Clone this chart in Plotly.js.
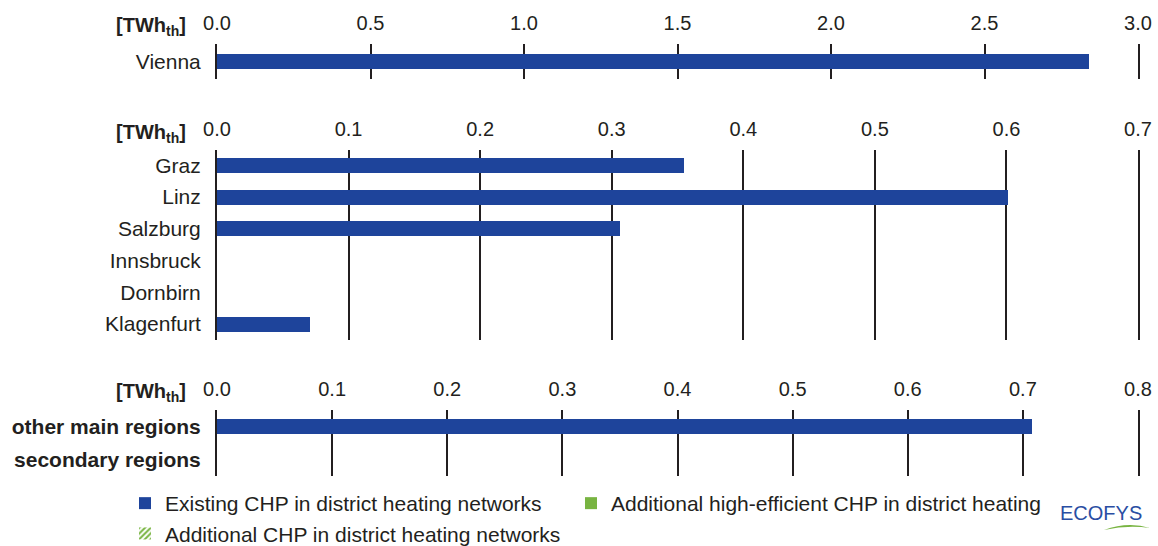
<!DOCTYPE html>
<html>
<head>
<meta charset="utf-8">
<script src="https://cdn.plot.ly/plotly-3.0.1.min.js"></script>
<style>
  html, body { margin: 0; padding: 0; background: #ffffff; }
  #chart { width: 1158px; height: 546px; }
</style>
</head>
<body>
<div id="chart"></div>
<script>
// CHP heat in district heating networks, in TWh_th

// Vienna
const viennaCities = ['Vienna'];
const viennaExisting = [2.84];
const viennaHighEff = [0];
const viennaAdditional = [0];

// Other provincial capitals
const cities = ['Graz', 'Linz', 'Salzburg', 'Innsbruck', 'Dornbirn', 'Klagenfurt'];
const citiesExisting = [0.355, 0.601, 0.306, 0, 0, 0.071];
const citiesHighEff = [0, 0, 0, 0, 0, 0];
const citiesAdditional = [0, 0, 0, 0, 0, 0];

// Remaining regions
const regions = ['other main regions', 'secondary regions'];
const regionsExisting = [0.708, 0];
const regionsHighEff = [0, 0];
const regionsAdditional = [0, 0];

const seriesNames = [
  'Existing CHP in district heating networks',
  'Additional high-efficient CHP in district heating',
  'Additional CHP in district heating networks'
];
const unitLabel = '<b>[TWh<sub>th</sub>]</b>';
const logoText = 'ECOFYS';

// ---- page geometry ----
const W = 1158, H = 546;
const M = { l: 217, r: 20, t: 44, b: 70 };
const PW = W - M.l - M.r, PH = H - M.t - M.b;
const px = x => (x - M.l) / PW;          // pixel x -> paper x
const py = y => (H - M.b - y) / PH;      // pixel y -> paper y

const FONT = 'Liberation Sans, Arial, Helvetica, sans-serif';
const INK = '#231f20';
const BLUE = '#1e449b';
const GREEN = '#78b441';

const panels = [
  { cats: viennaCities, ex: viennaExisting, he: viennaHighEff, ad: viennaAdditional,
    x: 'x', y: 'y', dom: [py(79), py(44)], range: [0, 3.0], dtick: 0.5, bw: 0.43, bold: false, unitY: 27 },
  { cats: cities, ex: citiesExisting, he: citiesHighEff, ad: citiesAdditional,
    x: 'x2', y: 'y2', dom: [py(340), py(149.5)], range: [0, 0.7], dtick: 0.1, bw: 0.47, bold: false, unitY: 133 },
  { cats: regions, ex: regionsExisting, he: regionsHighEff, ad: regionsAdditional,
    x: 'x3', y: 'y3', dom: [0, py(410)], range: [0, 0.8], dtick: 0.1, bw: 0.455, bold: true, unitY: 392 }
];

const legendCommon = {
  orientation: 'v', yanchor: 'top', xanchor: 'left', traceorder: 'normal',
  font: { family: FONT, size: 21, color: INK }, bgcolor: 'rgba(0,0,0,0)', borderwidth: 0
};

const traces = [];
const layout = {
  width: W, height: H,
  margin: { l: M.l, r: M.r, t: M.t, b: M.b, autoexpand: false },
  paper_bgcolor: '#ffffff', plot_bgcolor: 'rgba(0,0,0,0)',
  font: { family: FONT, size: 20, color: INK },
  barmode: 'stack',
  showlegend: true,
  legend: Object.assign({}, legendCommon, { x: px(125), y: py(483) }),
  legend2: Object.assign({}, legendCommon, { x: px(571), y: py(483) }),
  annotations: [],
  shapes: []
};

panels.forEach((p, i) => {
  const first = i === 0;
  traces.push({
    type: 'bar', orientation: 'h', name: seriesNames[0], legend: 'legend', legendrank: 1, showlegend: first,
    x: p.ex, y: p.cats, xaxis: p.x, yaxis: p.y, width: p.bw,
    marker: { color: BLUE, line: { width: 0 } }, hoverinfo: 'x+y'
  });
  traces.push({
    type: 'bar', orientation: 'h', name: seriesNames[1], legend: 'legend2', showlegend: first,
    x: p.he, y: p.cats, xaxis: p.x, yaxis: p.y, width: p.bw,
    marker: { color: GREEN, line: { width: 0 } }, hoverinfo: 'x+y'
  });
  traces.push({
    type: 'bar', orientation: 'h', name: seriesNames[2], legend: 'legend', legendrank: 2, showlegend: first,
    x: p.ad, y: p.cats, xaxis: p.x, yaxis: p.y, width: p.bw,
    marker: { color: '#ffffff', line: { width: 0 },
      pattern: { shape: '/', fgcolor: GREEN, bgcolor: '#ffffff', size: 5, solidity: 0.5 } },
    hoverinfo: 'x+y'
  });

  const sfx = i === 0 ? '' : String(i + 1);
  layout['xaxis' + sfx] = {
    domain: [0, 1], anchor: p.y, side: 'top', range: p.range, dtick: p.dtick, tick0: 0,
    tickformat: '.1f', showgrid: true, gridcolor: INK, gridwidth: 2, zeroline: false,
    showline: false, ticks: 'outside', ticklen: 5, tickcolor: 'rgba(0,0,0,0)',
    tickfont: { family: FONT, size: 20, color: INK }, fixedrange: true
  };
  // the y axis line, mirrored, closes each panel with the 0 and end-of-range verticals
  layout['yaxis' + sfx] = {
    domain: p.dom, anchor: p.x, type: 'category', autorange: 'reversed',
    showgrid: false, zeroline: false,
    showline: true, mirror: true, linecolor: INK, linewidth: 2, layer: 'below traces',
    ticks: 'outside', ticklen: 10, tickcolor: 'rgba(0,0,0,0)',
    tickfont: { family: FONT, size: 21, color: INK, weight: p.bold ? 'bold' : 'normal' },
    fixedrange: true
  };

  layout.annotations.push({
    text: unitLabel, xref: 'paper', yref: 'paper', x: px(188), y: py(p.unitY),
    xanchor: 'right', yanchor: 'middle', showarrow: false,
    font: { family: FONT, size: 20, color: INK }
  });
});

// Logo lettering and swoosh
layout.annotations.push({
  text: logoText, xref: 'paper', yref: 'paper', x: px(1058), y: py(513),
  xanchor: 'left', yanchor: 'middle', showarrow: false,
  font: { family: FONT, size: 20, color: '#2a4ea3' }
});
const pt = (x, y) => px(x).toFixed(5) + ',' + py(y).toFixed(5);
layout.shapes.push({
  type: 'path', xref: 'paper', yref: 'paper',
  path: 'M' + pt(1104, 530) + ' Q' + pt(1128, 521) + ' ' + pt(1150, 528) +
        ' Q' + pt(1128, 524.5) + ' ' + pt(1104, 530) + ' Z',
  fillcolor: GREEN, line: { width: 0 }
});

Plotly.newPlot('chart', traces, layout, { displayModeBar: false, staticPlot: true });
</script>
</body>
</html>
